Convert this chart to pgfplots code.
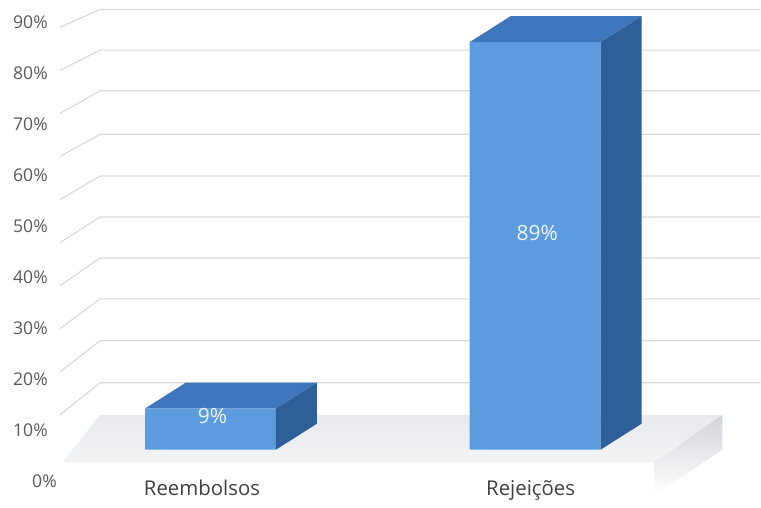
\documentclass[border=0pt]{standalone}
\usepackage{pgfplots}
\pgfplotsset{compat=1.18}
\usepackage{pgfplotstable}
\usepackage{fontspec}
\setmainfont{Open Sans}
\definecolor{frontc}{RGB}{91,155,222}
\definecolor{topc}{RGB}{62,119,190}
\definecolor{sidec}{RGB}{47,95,153}
\definecolor{gridc}{RGB}{217,217,217}
\definecolor{tickc}{RGB}{89,89,89}
\definecolor{catc}{RGB}{64,64,64}
\definecolor{labelc}{RGB}{238,244,251}
\definecolor{floorb}{RGB}{231,233,237}
\definecolor{floorf}{RGB}{243,244,246}
\definecolor{slabc}{RGB}{208,211,217}
\pgfplotstableread{
x v
210.5 9
535.5 89
}\bardata
\pgfplotsset{
  base/.style={scale only axis, width=380.5pt, height=251pt,
    axis line style={draw=none}, major tick length=0pt, clip=false,
    /pgf/number format/assume math mode=true},
}
\begin{document}
\begin{tikzpicture}
% background: back wall grid and floor (pixel coordinates)
\begin{axis}[base, xmin=0, xmax=761, ymin=0, ymax=502, y dir=reverse,
  xtick=\empty, ytick=\empty]
\shade[top color=floorb, bottom color=floorf] (axis cs:62,463) -- (axis cs:655,463) -- (axis cs:723,415) -- (axis cs:100,415) -- cycle;
\shade[top color=slabc, bottom color=white] (axis cs:655,463) -- (axis cs:723,415) -- (axis cs:723,450) -- (axis cs:655,495) -- cycle;
\draw[gridc, line width=0.6pt] (axis cs:60,415) -- (axis cs:100,383) -- (axis cs:761,383);
\draw[gridc, line width=0.6pt] (axis cs:60,371.9) -- (axis cs:100,341) -- (axis cs:761,341);
\draw[gridc, line width=0.6pt] (axis cs:60,328.8) -- (axis cs:100,299) -- (axis cs:761,299);
\draw[gridc, line width=0.6pt] (axis cs:60,285.7) -- (axis cs:100,258) -- (axis cs:761,258);
\draw[gridc, line width=0.6pt] (axis cs:60,242.6) -- (axis cs:100,217) -- (axis cs:761,217);
\draw[gridc, line width=0.6pt] (axis cs:60,199.5) -- (axis cs:100,176) -- (axis cs:761,176);
\draw[gridc, line width=0.6pt] (axis cs:60,156.4) -- (axis cs:100,134.3) -- (axis cs:761,134.3);
\draw[gridc, line width=0.6pt] (axis cs:60,113.3) -- (axis cs:100,90.7) -- (axis cs:761,90.7);
\draw[gridc, line width=0.6pt] (axis cs:60,70.2) -- (axis cs:100,50) -- (axis cs:761,50);
\draw[gridc, line width=0.6pt] (axis cs:60,27.1) -- (axis cs:100,9.3) -- (axis cs:761,9.3);
\end{axis}
% bars
\begin{axis}[base, xmin=0, xmax=761, ymin=-11.341, ymax=98.146,
  ytick=\empty, xtick={202,531}, xticklabels={Reembolsos, Rejeições},
  xticklabel style={anchor=base, yshift=3pt, text=catc, font=\fontsize{10.2}{12}\selectfont}]
\addplot[ybar, bar width=131, bar shift=0pt, fill=frontc, draw=none] table[x=x, y=v] {\bardata};
\addplot[fill=topc, draw=none] coordinates {(145,9) (186,14.671) (317,14.671) (276,9)} -- cycle;
\addplot[fill=sidec, draw=none] coordinates {(276,0) (317,5.671) (317,14.671) (276,9)} -- cycle;
\addplot[fill=topc, draw=none] coordinates {(470,89) (511,94.671) (642,94.671) (601,89)} -- cycle;
\addplot[fill=sidec, draw=none] coordinates {(601,0) (642,5.671) (642,94.671) (601,89)} -- cycle;
\addplot[draw=none, mark=none, point meta=explicit,
  nodes near coords={\pgfmathprintnumber{\pgfplotspointmeta}\%},
  every node near coord/.append style={anchor=center, yshift=6.5pt, xshift=1pt, text=labelc, font=\fontsize{10.5}{12}\selectfont}]
  table[x=x, y expr=\thisrow{v}/2, meta=v] {\bardata};
\end{axis}
% tick labels
\begin{axis}[base, xmin=0, xmax=761, ymin=-3.913, ymax=94.307,
  xtick=\empty, ytick={10,20,...,90},
  yticklabel={\pgfmathprintnumber{\tick}\%},
  yticklabel style={anchor=east, inner sep=0pt, xshift=24pt, text=tickc, font=\fontsize{8.8}{10}\selectfont},
  extra y ticks={0}, extra y tick labels={0\%},
  extra y tick style={yticklabel style={xshift=4.5pt}}]
\addplot[draw=none] coordinates {(0,0)};
\end{axis}
\end{tikzpicture}
\end{document}
